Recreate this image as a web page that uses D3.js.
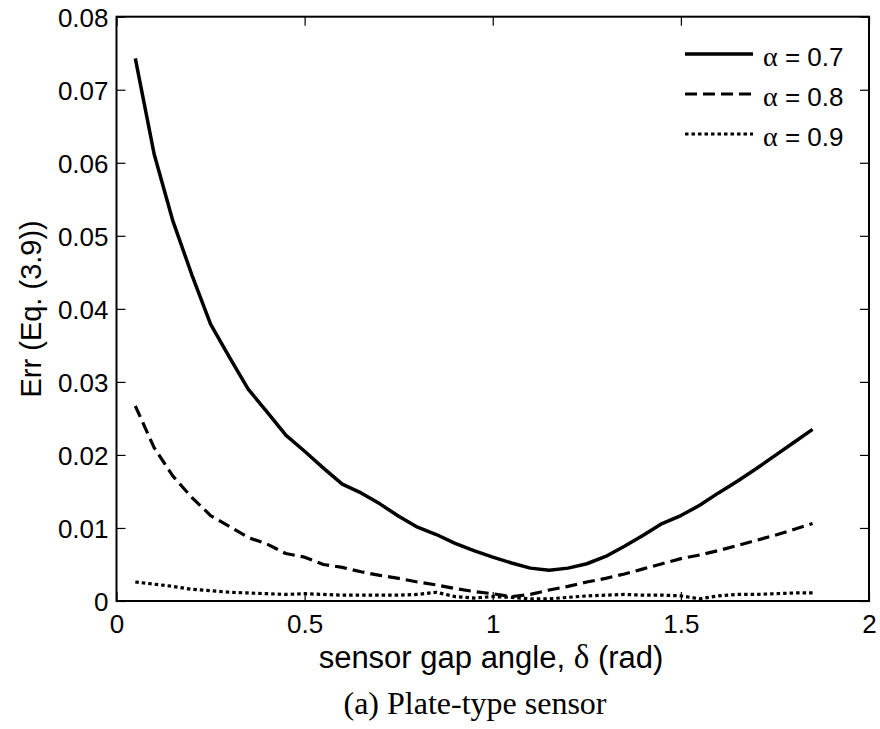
<!DOCTYPE html>
<html>
<head>
    <title>Err vs sensor gap angle</title>
    <script src="https://d3js.org/d3.v7.min.js"></script>
    <style>
        body { margin: 0; background: #fff; }
        svg { display: block; }
    </style>
</head>
<body>
    <svg width="880" height="729"></svg>
    <script>
        // sensor gap angle samples (rad)
        const gapAngles = [0.05, 0.10, 0.15, 0.20, 0.25, 0.30, 0.35, 0.40, 0.45, 0.50,
            0.55, 0.60, 0.65, 0.70, 0.75, 0.80, 0.85, 0.90, 0.95, 1.00,
            1.05, 1.10, 1.15, 1.20, 1.25, 1.30, 1.35, 1.40, 1.45, 1.50,
            1.55, 1.60, 1.65, 1.70, 1.75, 1.80, 1.85];

        // Err values
        const errAlpha07 = [0.0743, 0.0612, 0.0520, 0.0447, 0.0379, 0.0334, 0.0290, 0.0259, 0.0227, 0.0205,
            0.0182, 0.0160, 0.0148, 0.0133, 0.0116, 0.0101, 0.0091, 0.0079, 0.0069, 0.0060,
            0.0052, 0.0045, 0.0042, 0.0045, 0.0051, 0.0061, 0.0075, 0.0090, 0.0106, 0.0117,
            0.0131, 0.0148, 0.0164, 0.0181, 0.0199, 0.0217, 0.0235];
        const errAlpha08 = [0.0267, 0.0210, 0.0171, 0.0142, 0.0117, 0.0102, 0.0087, 0.0078, 0.0065, 0.0060,
            0.0050, 0.0046, 0.0040, 0.0035, 0.0031, 0.0026, 0.0022, 0.0017, 0.0013, 0.0010,
            0.0006, 0.0009, 0.0015, 0.0020, 0.0026, 0.0031, 0.0037, 0.0044, 0.0051, 0.0058,
            0.0063, 0.0069, 0.0076, 0.0083, 0.0090, 0.0098, 0.0106];
        const errAlpha09 = [0.0026, 0.0023, 0.0020, 0.0016, 0.0014, 0.0012, 0.0011, 0.0010, 0.0009, 0.0010,
            0.0009, 0.0008, 0.0008, 0.0008, 0.0008, 0.0009, 0.0012, 0.0006, 0.0004, 0.0006,
            0.0005, 0.0003, 0.0003, 0.0005, 0.0007, 0.0008, 0.0009, 0.0008, 0.0008, 0.0007,
            0.0003, 0.0007, 0.0009, 0.0009, 0.0010, 0.0011, 0.0011];

        const seriesNames = ["0.7", "0.8", "0.9"];
        const xTicks = [0, 0.5, 1, 1.5, 2];
        const yTicks = [0, 0.01, 0.02, 0.03, 0.04, 0.05, 0.06, 0.07, 0.08];

        const dashes = [null, "12,6", "3.5,3"];
        const series = [errAlpha07, errAlpha08, errAlpha09].map((vals, i) => ({
            name: seriesNames[i],
            dash: dashes[i],
            points: gapAngles.map((g, j) => [g, vals[j]])
        }));

        const plotLeft = 116.5, plotRight = 869, plotTop = 16.7, plotBottom = 601;
        const tickFont = "Liberation Sans, Arial, sans-serif";

        const x = d3.scaleLinear().domain([0, 2]).range([plotLeft, plotRight]);
        const y = d3.scaleLinear().domain([0, 0.08]).range([plotBottom, plotTop]);

        const svg = d3.select("svg");
        const fmt = d => d === 0 ? "0" : String(d);

        // axes with inward ticks
        const gx = svg.append("g").attr("transform", `translate(0,${plotBottom})`)
            .call(d3.axisBottom(x).tickValues(xTicks).tickFormat(fmt).tickSize(-9).tickSizeOuter(0).tickPadding(14));
        const gxTop = svg.append("g").attr("transform", `translate(0,${plotTop})`)
            .call(d3.axisTop(x).tickValues(xTicks).tickFormat("").tickSize(-9).tickSizeOuter(0));
        const gy = svg.append("g").attr("transform", `translate(${plotLeft},0)`)
            .call(d3.axisLeft(y).tickValues(yTicks).tickFormat(fmt).tickSize(-9).tickSizeOuter(0).tickPadding(8));
        const gyRight = svg.append("g").attr("transform", `translate(${plotRight},0)`)
            .call(d3.axisRight(y).tickValues(yTicks).tickFormat("").tickSize(-9).tickSizeOuter(0));

        [gx, gxTop, gy, gyRight].forEach(g => {
            g.select(".domain").remove();
            g.selectAll(".tick line").attr("stroke", "#000").attr("stroke-width", 1.2);
            g.selectAll(".tick text").attr("font-family", tickFont).attr("font-size", 26).attr("fill", "#000");
        });
        gy.selectAll(".tick text").attr("dy", "0.38em");

        // box
        svg.append("rect")
            .attr("x", plotLeft).attr("y", plotTop)
            .attr("width", plotRight - plotLeft).attr("height", plotBottom - plotTop)
            .attr("fill", "none").attr("stroke", "#000").attr("stroke-width", 2);

        // curves
        const line = d3.line().x(d => x(d[0])).y(d => y(d[1]));
        svg.append("g").selectAll("path")
            .data(series)
            .enter().append("path")
            .attr("d", d => line(d.points))
            .attr("fill", "none")
            .attr("stroke", "#000")
            .attr("stroke-width", d => d.dash ? 3.2 : 3.5)
            .attr("stroke-dasharray", d => d.dash)
            .attr("stroke-linejoin", "round");

        // legend
        const legend = svg.append("g");
        series.forEach((s, i) => {
            const ly = 54 + i * 40;
            legend.append("line")
                .attr("x1", 685).attr("x2", 753).attr("y1", ly).attr("y2", ly)
                .attr("stroke", "#000").attr("stroke-width", s.dash ? 3.2 : 3.5)
                .attr("stroke-dasharray", s.dash);
            const t = legend.append("text")
                .attr("x", 763).attr("y", ly + 12)
                .attr("font-family", tickFont).attr("font-size", 26);
            t.append("tspan").attr("font-family", "Liberation Serif, serif").attr("font-size", 28).text("α");
            t.append("tspan").text(" = " + s.name);
        });

        // axis labels
        const xl = svg.append("text")
            .attr("x", 491).attr("y", 668)
            .attr("text-anchor", "middle")
            .attr("font-family", tickFont).attr("font-size", 31);
        xl.append("tspan").text("sensor gap angle, ");
        xl.append("tspan").attr("font-family", "Liberation Serif, serif").attr("font-size", 33).text("δ");
        xl.append("tspan").text(" (rad)");

        svg.append("text")
            .attr("transform", `translate(41,${(plotTop + plotBottom) / 2}) rotate(-90)`)
            .attr("text-anchor", "middle")
            .attr("font-family", tickFont).attr("font-size", 29)
            .text("Err (Eq. (3.9))");

        svg.append("text")
            .attr("x", 475).attr("y", 714)
            .attr("text-anchor", "middle")
            .attr("font-family", "Liberation Serif, Times New Roman, serif").attr("font-size", 32)
            .text("(a) Plate-type sensor");
    </script>
</body>
</html>
